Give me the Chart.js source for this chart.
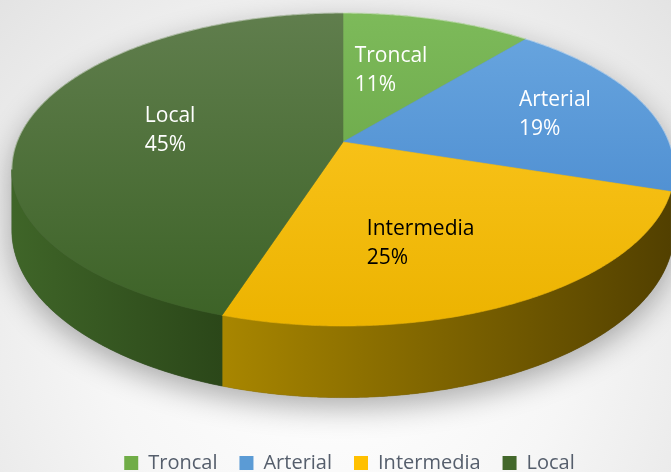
<!DOCTYPE html>
<html lang="es">
<head>
<meta charset="utf-8">
<title>Tipo de vía</title>
<script src="https://cdn.jsdelivr.net/npm/chart.js@4.4.1/dist/chart.umd.min.js"></script>
<style>
    html, body { margin: 0; padding: 0; background: #ffffff; }
    #wrap { width: 671px; height: 472px; }
</style>
</head>
<body>
<div id="wrap"><canvas id="pieChart" width="671" height="472"></canvas></div>
<script>
// Datos del gráfico
const categories = ["Troncal", "Arterial", "Intermedia", "Local"];
const shares = [11, 19, 25, 45];

// Colores de cada porción (leyenda, cara superior, lateral)
const sliceColors = ["#70ad47", "#5b9bd5", "#ffc000", "#43682b"];
const topLight = ["#7dba5a", "#6aa7e0", "#ffcb28", "#607e4d"];
const topDark = ["#5f9b3d", "#3f81c9", "#ecb300", "#3c6226"];
const sideLeft = ["#4b7a2e", "#3a6fa3", "#a88600", "#3f6528"];
const sideRight = ["#34561f", "#28507a", "#524000", "#2b4719"];
const labelColors = ["#ffffff", "#ffffff", "#000000", "#ffffff"];

// Vista en perspectiva del disco
const view = { cx: 343, cy: 142, a: 326, b: 151.7, tilt: 0.1756, depth: 59 };
// Posición de cada etiqueta: fracción del ángulo de la porción, fracción del radio
const labelSpots = [[0.43, 0.55], [0.5, 0.70], [0.58, 0.63], [0.5, 0.545]];

function project(theta, r, drop) {
    const k = 1 + view.tilt * r * Math.cos(theta);
    return [
        view.cx + view.a * r * Math.sin(theta) / k,
        view.cy - view.b * r * Math.cos(theta) / k + (drop ? view.depth / k : 0)
    ];
}

function rimPoints(t0, t1, drop) {
    const pts = [];
    const n = Math.max(2, Math.ceil(Math.abs(t1 - t0) / 0.008));
    for (let i = 0; i <= n; i++) {
        pts.push(project(t0 + (t1 - t0) * i / n, 1, drop));
    }
    return pts;
}

function tracePoints(ctx, pts, first) {
    pts.forEach((p, i) => {
        if (i === 0 && first) ctx.moveTo(p[0], p[1]);
        else ctx.lineTo(p[0], p[1]);
    });
}

// Ángulos donde el borde deja de verse de frente
const edge = Math.acos(-view.tilt);

const pie3d = {
    id: "pie3d",
    beforeDraw(chart) {
        const ctx = chart.ctx;
        const g = ctx.createRadialGradient(336, 320, 40, 336, 320, 480);
        g.addColorStop(0, "#ffffff");
        g.addColorStop(0.45, "#f6f6f6");
        g.addColorStop(1, "#e2e2e2");
        ctx.save();
        ctx.fillStyle = g;
        ctx.fillRect(0, 0, chart.width, chart.height);
        ctx.restore();
    },
    beforeDatasetsDraw(chart) {
        const ctx = chart.ctx;
        const arcs = chart.getDatasetMeta(0).data;
        const total = shares.reduce((s, v) => s + v, 0);

        // Sombra bajo el disco
        ctx.save();
        ctx.beginPath();
        tracePoints(ctx, rimPoints(2 * Math.PI - edge, 2 * Math.PI + edge, false), true);
        tracePoints(ctx, rimPoints(edge, 2 * Math.PI - edge, true), false);
        ctx.closePath();
        ctx.shadowColor = "rgba(0, 0, 0, 0.32)";
        ctx.shadowBlur = 30;
        ctx.shadowOffsetY = 10;
        ctx.fillStyle = "#555555";
        ctx.fill();
        ctx.restore();

        // Laterales visibles
        arcs.forEach((arc, i) => {
            const t0 = Math.max(arc.startAngle + Math.PI / 2, edge);
            const t1 = Math.min(arc.endAngle + Math.PI / 2, 2 * Math.PI - edge);
            if (t1 <= t0) return;
            const top = rimPoints(t0, t1, false);
            const bottom = rimPoints(t1, t0, true);
            const xs = top.map(p => p[0]);
            const g = ctx.createLinearGradient(Math.min(...xs), 0, Math.max(...xs), 0);
            g.addColorStop(0, sideLeft[i]);
            g.addColorStop(1, sideRight[i]);
            ctx.save();
            ctx.beginPath();
            tracePoints(ctx, top, true);
            tracePoints(ctx, bottom, false);
            ctx.closePath();
            ctx.fillStyle = g;
            ctx.fill();
            ctx.strokeStyle = g;
            ctx.lineWidth = 0.6;
            ctx.stroke();
            ctx.restore();
        });

        // Caras superiores
        arcs.forEach((arc, i) => {
            const t0 = arc.startAngle + Math.PI / 2;
            const t1 = arc.endAngle + Math.PI / 2;
            const g = ctx.createLinearGradient(0, 13, 0, 326);
            g.addColorStop(0, topLight[i]);
            g.addColorStop(1, topDark[i]);
            ctx.save();
            ctx.beginPath();
            ctx.moveTo(view.cx, view.cy);
            tracePoints(ctx, rimPoints(t0, t1, false), false);
            ctx.closePath();
            ctx.fillStyle = g;
            ctx.fill();
            ctx.strokeStyle = g;
            ctx.lineWidth = 0.6;
            ctx.stroke();
            ctx.restore();
        });

        // Brillo suave en el borde superior
        ctx.save();
        ctx.beginPath();
        tracePoints(ctx, rimPoints(2 * Math.PI - edge, 2 * Math.PI + edge, false), true);
        ctx.strokeStyle = "rgba(255, 255, 255, 0.45)";
        ctx.lineWidth = 1.2;
        ctx.stroke();
        ctx.restore();

        // Etiquetas con nombre y porcentaje
        ctx.save();
        ctx.font = "21px 'Open Sans', sans-serif";
        ctx.textAlign = "left";
        ctx.textBaseline = "alphabetic";
        arcs.forEach((arc, i) => {
            const t0 = arc.startAngle + Math.PI / 2;
            const t1 = arc.endAngle + Math.PI / 2;
            const spot = labelSpots[i];
            const p = project(t0 + (t1 - t0) * spot[0], spot[1], false);
            const lines = [categories[i], Math.round(shares[i] / total * 100) + "%"];
            const w = Math.max(...lines.map(s => ctx.measureText(s).width));
            ctx.fillStyle = labelColors[i];
            ctx.fillText(lines[0], p[0] - w / 2, p[1] - 7);
            ctx.fillText(lines[1], p[0] - w / 2, p[1] + 22);
        });
        ctx.restore();

        return false;
    }
};

new Chart(document.getElementById("pieChart"), {
    type: "pie",
    data: {
        labels: categories,
        datasets: [{
            data: shares,
            backgroundColor: sliceColors,
            borderWidth: 0
        }]
    },
    options: {
        responsive: false,
        animation: false,
        layout: { padding: { left: 28, bottom: -11 } },
        plugins: {
            tooltip: { enabled: false },
            legend: {
                position: "bottom",
                labels: {
                    boxWidth: 14,
                    boxHeight: 14,
                    padding: 22,
                    color: "#555e6c",
                    font: { family: "'Open Sans', sans-serif", size: 20 }
                }
            }
        }
    },
    plugins: [pie3d]
});
</script>
</body>
</html>
